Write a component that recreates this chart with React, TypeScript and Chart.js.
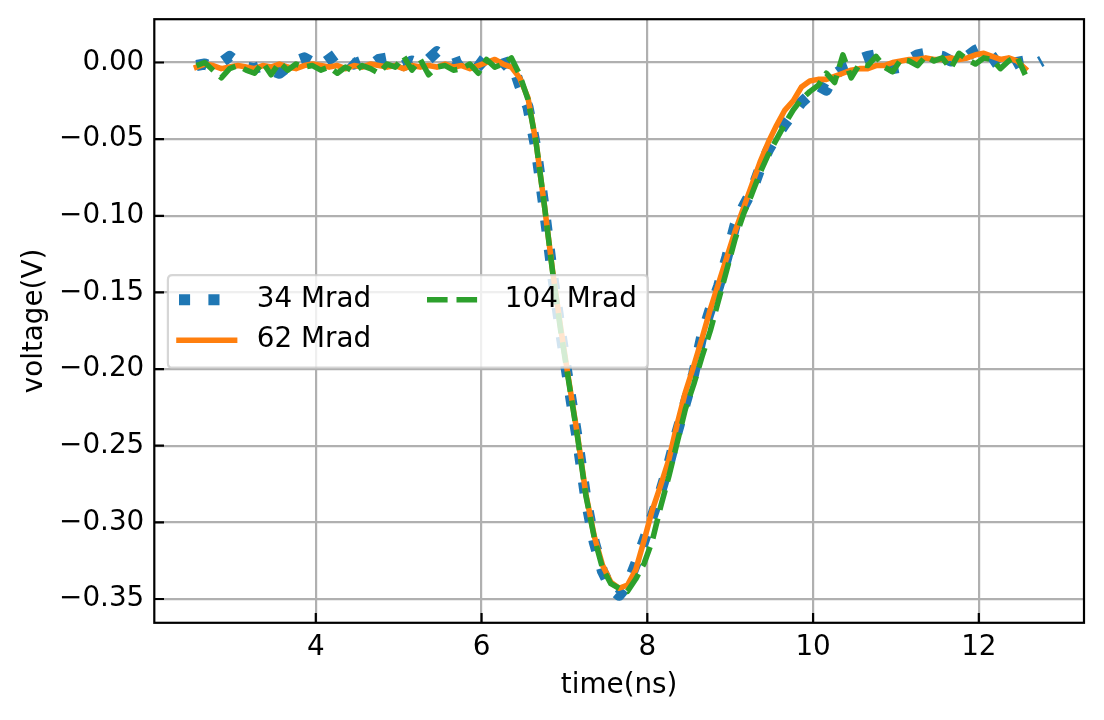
import React, { useEffect, useRef } from "react";
import { Chart, registerables } from "chart.js";

Chart.register(...registerables);

// ---------------- data ----------------
const TIME = [
  2.56, 2.66, 2.76, 2.86, 2.96, 3.06, 3.16, 3.26, 3.36, 3.46,
  3.56, 3.66, 3.76, 3.86, 3.96, 4.06, 4.16, 4.26, 4.36, 4.46,
  4.56, 4.66, 4.76, 4.86, 4.96, 5.06, 5.16, 5.26, 5.36, 5.46,
  5.56, 5.66, 5.76, 5.86, 5.96, 6.06, 6.16, 6.26, 6.36, 6.46,
  6.56, 6.66, 6.76, 6.86, 6.96, 7.06, 7.16, 7.26, 7.36, 7.46,
  7.56, 7.66, 7.76, 7.86, 7.96, 8.06, 8.16, 8.26, 8.36, 8.46,
  8.56, 8.66, 8.76, 8.86, 8.96, 9.06, 9.16, 9.26, 9.36, 9.46,
  9.56, 9.66, 9.76, 9.86, 9.96, 10.06, 10.16, 10.26, 10.36, 10.46,
  10.56, 10.66, 10.76, 10.86, 10.96, 11.06, 11.16, 11.26, 11.36, 11.46,
  11.56, 11.66, 11.76, 11.86, 11.96, 12.06, 12.16, 12.26, 12.36, 12.46,
  12.56, 12.66, 12.76,
];

// 34 Mrad (blue, dotted)
const V34 = [
  -0.002, -0.001, -0.003, 0.0, 0.004, 0.0, -0.003, -0.004, -0.002, -0.005,
  -0.007, -0.003, 0.001, 0.003, 0.0, -0.002, 0.002, 0.006, 0.004, -0.001,
  0.001, -0.002, 0.002, 0.003, 0.0, -0.002, 0.001, -0.001, 0.002, 0.007,
  0.003, -0.001, 0.001, 0.005, 0.001, -0.004, -0.006, -0.001, 0.001, -0.015,
  -0.029, -0.057, -0.097, -0.14, -0.178, -0.213, -0.247, -0.285, -0.313, -0.332,
  -0.343, -0.3476, -0.341, -0.327, -0.312, -0.296, -0.28, -0.262, -0.241, -0.222,
  -0.203, -0.178, -0.161, -0.146, -0.127, -0.106, -0.094, -0.084, -0.069, -0.057,
  -0.048, -0.04, -0.033, -0.026, -0.021, -0.015, -0.018, -0.008, -0.004, -0.002,
  0.002, 0.004, 0.005, 0.001, -0.004, -0.003, 0.002, 0.005, 0.006, 0.005,
  0.004, 0.001, 0.003, 0.004, 0.008, 0.0104, 0.004, -0.004, -0.003, 0.0,
  0.001, -0.002, 0.001,
];

// 62 Mrad (orange, solid)
const V62 = [
  -0.003, -0.001, -0.002, -0.004, -0.003, -0.002, -0.003, -0.004, -0.002, -0.003,
  -0.001, -0.003, -0.004, -0.002, -0.001, -0.002, -0.003, -0.002, -0.004, -0.002,
  -0.003, -0.001, -0.002, -0.003, -0.002, -0.004, -0.002, -0.003, -0.002, -0.003,
  -0.001, -0.003, -0.002, -0.004, -0.002, 0.0, 0.002, -0.001, -0.003, -0.01,
  -0.023, -0.053, -0.094, -0.137, -0.175, -0.21, -0.244, -0.282, -0.309, -0.328,
  -0.339, -0.343, -0.341, -0.331, -0.312, -0.292, -0.276, -0.259, -0.236, -0.215,
  -0.198, -0.18, -0.161, -0.144, -0.127, -0.11, -0.095, -0.08, -0.065, -0.052,
  -0.041, -0.031, -0.025, -0.016, -0.012, -0.011, -0.011, -0.009, -0.007, -0.005,
  -0.004, -0.004, -0.002, -0.002, 0.0, 0.001, 0.002, 0.002, 0.003, 0.002,
  0.002, 0.003, 0.002, 0.003, 0.005, 0.006, 0.004, 0.002, 0.003, 0.001,
  -0.004,
];

// 104 Mrad (green, dashed)
const V104 = [
  -0.002, 0.0, -0.005, -0.01, -0.004, -0.002, -0.005, -0.007, 0.0, -0.008,
  0.0, -0.005, -0.001, -0.003, -0.002, -0.005, -0.003, -0.007, -0.003, -0.006,
  -0.002, -0.004, -0.007, -0.001, -0.003, 0.004, -0.005, 0.002, -0.008, -0.003,
  -0.002, -0.005, -0.004, -0.001, -0.007, 0.002, -0.003, -0.001, 0.003, -0.008,
  -0.024, -0.053, -0.094, -0.138, -0.177, -0.211, -0.245, -0.283, -0.31, -0.33,
  -0.34, -0.343, -0.345, -0.337, -0.327, -0.312, -0.29, -0.27, -0.248, -0.226,
  -0.21, -0.192, -0.175, -0.155, -0.135, -0.115, -0.099, -0.086, -0.072, -0.06,
  -0.05, -0.04, -0.031, -0.024, -0.019, -0.015, -0.007, -0.013, 0.005, -0.01,
  -0.001, -0.002, 0.004, -0.003, -0.006, 0.002, 0.001, -0.002, 0.004, 0.001,
  0.003, -0.004, 0.006, 0.002, -0.001, 0.003, 0.002, -0.004, 0.001, 0.004,
  -0.008,
];

const SERIES_LABELS = ["34 Mrad", "62 Mrad", "104 Mrad"];
const X_TICKS = [4, 6, 8, 10, 12];
const Y_TICKS = [0, -0.05, -0.1, -0.15, -0.2, -0.25, -0.3, -0.35];
const X_LABEL = "time(ns)";
const Y_LABEL = "voltage(V)";

// ---------------- styling ----------------
const X_MIN = 2.0513;
const X_MAX = 13.269;
const Y_MIN = -0.36553;
const Y_MAX = 0.02825;

const FONT = "DejaVu Sans";
const FS = 27.8;
const BLUE = "#1f77b4";
const ORANGE = "#ff7f0e";
const GREEN = "#2ca02c";
const LW = 2.2;

const toPts = (vals: number[]) => vals.map((v, i) => ({ x: TIME[i], y: v }));

const framePlugin = {
  id: "mplFrame",
  afterDatasetsDraw(chart: any) {
    const { ctx, chartArea: a, scales } = chart;
    ctx.save();
    // inward ticks
    ctx.strokeStyle = "#000";
    ctx.lineWidth = LW;
    ctx.lineCap = "butt";
    ctx.setLineDash([]);
    ctx.beginPath();
    for (const v of X_TICKS) {
      const px = scales.x.getPixelForValue(v);
      ctx.moveTo(px, a.bottom);
      ctx.lineTo(px, a.bottom - 9.7);
    }
    for (const v of Y_TICKS) {
      const py = scales.y.getPixelForValue(v);
      ctx.moveTo(a.left, py);
      ctx.lineTo(a.left + 9.7, py);
    }
    ctx.stroke();
    // spines
    ctx.lineJoin = "miter";
    ctx.strokeRect(a.left, a.top, a.right - a.left, a.bottom - a.top);

    // legend
    const bx = a.left + 13.6;
    const by = a.top + 256;
    const bw = 480;
    const bh = 92.5;
    const r = 4.5;
    ctx.beginPath();
    ctx.moveTo(bx + r, by);
    ctx.lineTo(bx + bw - r, by);
    ctx.quadraticCurveTo(bx + bw, by, bx + bw, by + r);
    ctx.lineTo(bx + bw, by + bh - r);
    ctx.quadraticCurveTo(bx + bw, by + bh, bx + bw - r, by + bh);
    ctx.lineTo(bx + r, by + bh);
    ctx.quadraticCurveTo(bx, by + bh, bx, by + bh - r);
    ctx.lineTo(bx, by + r);
    ctx.quadraticCurveTo(bx, by, bx + r, by);
    ctx.closePath();
    ctx.fillStyle = "rgba(255,255,255,0.8)";
    ctx.fill();
    ctx.strokeStyle = "rgba(204,204,204,0.8)";
    ctx.lineWidth = LW;
    ctx.stroke();

    const slots = [
      { x: bx + 11.1, y: by + 24.5 },
      { x: bx + 11.1, y: by + 65 },
      { x: bx + 259.1, y: by + 24.5 },
    ];
    const handleLen = 55.6;
    chart.data.datasets.forEach((ds: any, i: number) => {
      const s = slots[i];
      ctx.save();
      ctx.strokeStyle = ds.borderColor;
      ctx.lineWidth = ds.borderWidth;
      ctx.lineCap = ds.borderCapStyle || "butt";
      ctx.setLineDash(ds.borderDash || []);
      ctx.lineDashOffset = 0;
      ctx.beginPath();
      ctx.moveTo(s.x, s.y);
      ctx.lineTo(s.x + handleLen, s.y);
      ctx.stroke();
      ctx.restore();
      ctx.fillStyle = "#000";
      ctx.font = `${FS}px "${FONT}"`;
      ctx.textAlign = "left";
      ctx.textBaseline = "middle";
      ctx.fillText(ds.label, s.x + handleLen + 22.2, s.y);
    });
    ctx.restore();
  },
};

export default function App() {
  const ref = useRef<HTMLCanvasElement | null>(null);

  useEffect(() => {
    if (!ref.current) return;
    const tickFont = { family: FONT, size: FS };
    const chart = new Chart(ref.current, {
      type: "line",
      data: {
        datasets: [
          {
            label: SERIES_LABELS[0],
            data: toPts(V34),
            borderColor: BLUE,
            backgroundColor: BLUE,
            borderWidth: 11.1,
            borderDash: [11.1, 18.3],
            borderCapStyle: "butt",
            borderJoinStyle: "round",
            pointRadius: 0,
            fill: false,
            tension: 0,
            order: 3,
          },
          {
            label: SERIES_LABELS[1],
            data: toPts(V62),
            borderColor: ORANGE,
            backgroundColor: ORANGE,
            borderWidth: 5.56,
            borderCapStyle: "square",
            borderJoinStyle: "round",
            pointRadius: 0,
            fill: false,
            tension: 0,
            order: 2,
          },
          {
            label: SERIES_LABELS[2],
            data: toPts(V104),
            borderColor: GREEN,
            backgroundColor: GREEN,
            borderWidth: 5.56,
            borderDash: [20.6, 8.9],
            borderCapStyle: "butt",
            borderJoinStyle: "round",
            pointRadius: 0,
            fill: false,
            tension: 0,
            order: 1,
          },
        ],
      },
      options: {
        animation: false,
        responsive: false,
        devicePixelRatio: 1,
        events: [],
        layout: { padding: { left: 0, top: 19.2, right: 20, bottom: 0 } },
        plugins: {
          legend: { display: false },
          tooltip: { enabled: false },
          title: { display: false },
        },
        scales: {
          x: {
            type: "linear",
            min: X_MIN,
            max: X_MAX,
            afterBuildTicks: (s: any) => {
              s.ticks = X_TICKS.map((value) => ({ value }));
            },
            afterFit: (s: any) => {
              s.height = 97.2;
              s.paddingLeft = 0;
              s.paddingRight = 0;
              s.paddingTop = 0;
              s.paddingBottom = 0;
            },
            grid: { color: "#b0b0b0", lineWidth: LW, drawTicks: false },
            border: { display: false },
            ticks: {
              color: "#000",
              font: tickFont,
              padding: 8,
              maxRotation: 0,
              autoSkip: false,
              callback: (v: any) => String(v),
            },
            title: {
              display: true,
              text: X_LABEL,
              color: "#000",
              font: tickFont,
              padding: { top: 0, bottom: 17.8 },
            },
          },
          y: {
            type: "linear",
            min: Y_MIN,
            max: Y_MAX,
            afterBuildTicks: (s: any) => {
              s.ticks = Y_TICKS.map((value) => ({ value }));
            },
            afterFit: (s: any) => {
              s.width = 154.3;
              s.paddingLeft = 0;
              s.paddingRight = 0;
              s.paddingTop = 0;
              s.paddingBottom = 0;
            },
            grid: { color: "#b0b0b0", lineWidth: LW, drawTicks: false },
            border: { display: false },
            ticks: {
              color: "#000",
              font: tickFont,
              padding: 10,
              autoSkip: false,
              callback: (v: any) => {
                const n = Number(v);
                const s = Math.abs(n).toFixed(2);
                return n < -1e-9 ? "\u2212" + s : s;
              },
            },
            title: {
              display: true,
              text: Y_LABEL,
              color: "#000",
              font: tickFont,
              padding: { top: 17.8, bottom: 0 },
            },
          },
        },
      },
      plugins: [framePlugin],
    } as any);
    return () => chart.destroy();
  }, []);

  return (
    <div
      style={{
        position: "absolute",
        left: 0,
        top: 0,
        width: 1104,
        height: 720,
        background: "#fff",
      }}
    >
      <canvas ref={ref} width={1104} height={720} style={{ display: "block", width: 1104, height: 720 }} />
    </div>
  );
}
